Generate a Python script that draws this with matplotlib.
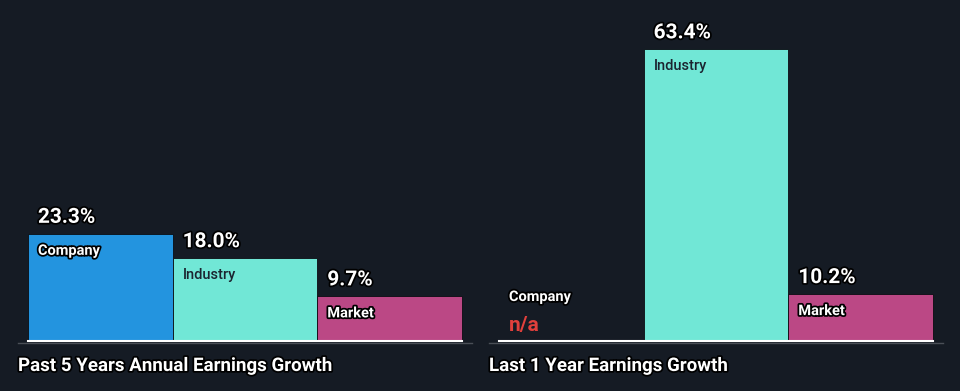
import matplotlib
matplotlib.use("Agg")
from matplotlib import pyplot as plt
import matplotlib.patheffects as pe
import numpy as np

plt.rcParams['font.family'] = ['Roboto', 'DejaVu Sans']

categories = ["Company", "Industry", "Market"]
past_5y = [23.3, 18.0, 9.7]
last_1y = [None, 63.4, 10.2]
titles = ["Past 5 Years Annual Earnings Growth", "Last 1 Year Earnings Growth"]

bg = '#151b24'
colours = ['#2394df', '#71e7d6', '#bb4885']
label_colours = ['white', '#1b2430', 'white']

W, H = 960, 391
fig = plt.figure(figsize=(W / 100, H / 100), dpi=100, facecolor=bg)

px_per_unit = 145.0   # bar width in pixels
px_per_pct = 4.6
base_px = 50          # baseline from bottom of figure
stroke = [pe.withStroke(linewidth=2.5, foreground='black')]


def panel(left_px, values, title):
    width_px = 454
    ax = fig.add_axes([left_px / W, base_px / H, width_px / W, (H - base_px) / H])
    ax.set_facecolor(bg)
    pad = 10 / px_per_unit
    ax.set_xlim(-0.5 - pad, 2.5 + pad)
    ax.set_ylim(0, (H - base_px) / px_per_pct)
    ax.axis('off')

    x = np.arange(len(categories))
    heights = [v if v is not None else 0 for v in values]
    ax.bar(x, heights, width=1.0, color=colours, edgecolor='#0a0d12', linewidth=0.6, zorder=2)

    # baseline lines
    ax.plot([-0.5 - pad, 2.5 + pad], [-0.35, -0.35], color='#4a4f57', lw=1, clip_on=False, zorder=1)
    ax.plot([-0.5, 2.5], [0, 0], color='white', lw=1.5, clip_on=False, zorder=3)

    xo = 10 / px_per_unit
    for i, (cat, v) in enumerate(zip(categories, values)):
        if v is None:
            ax.annotate(cat, (i - 0.5 + xo, 0), xytext=(0, 44), textcoords='offset pixels',
                        color='white', fontsize=10.5, fontweight='bold', va='center', ha='left',
                        path_effects=stroke, zorder=4)
            ax.annotate('n/a', (i - 0.5 + xo, 0), xytext=(0, 16), textcoords='offset pixels',
                        color='#e0403c', fontsize=15, fontweight='bold', va='center', ha='left',
                        zorder=4)
            continue
        ax.annotate(f"{v:.1f}%", (i - 0.5 + xo, v), xytext=(0, 7), textcoords='offset pixels',
                    color='white', fontsize=15, fontweight='bold', va='bottom', ha='left',
                    path_effects=stroke, zorder=4)
        kw = dict(fontweight='bold', path_effects=stroke) if label_colours[i] == 'white' \
            else dict(fontweight='medium')
        ax.annotate(cat, (i - 0.5 + xo, v), xytext=(0, -17), textcoords='offset pixels',
                    color=label_colours[i], fontsize=10.5, va='center', ha='left', zorder=4, **kw)

    fig.text(left_px / W, 1 - 366 / H, title, color='white', fontsize=13.5, fontweight='bold',
             va='center', ha='left', path_effects=stroke)
    return ax


panel(18, past_5y, titles[0])
panel(489, last_1y, titles[1])

fig.savefig('out.png', dpi=100, facecolor=bg)
